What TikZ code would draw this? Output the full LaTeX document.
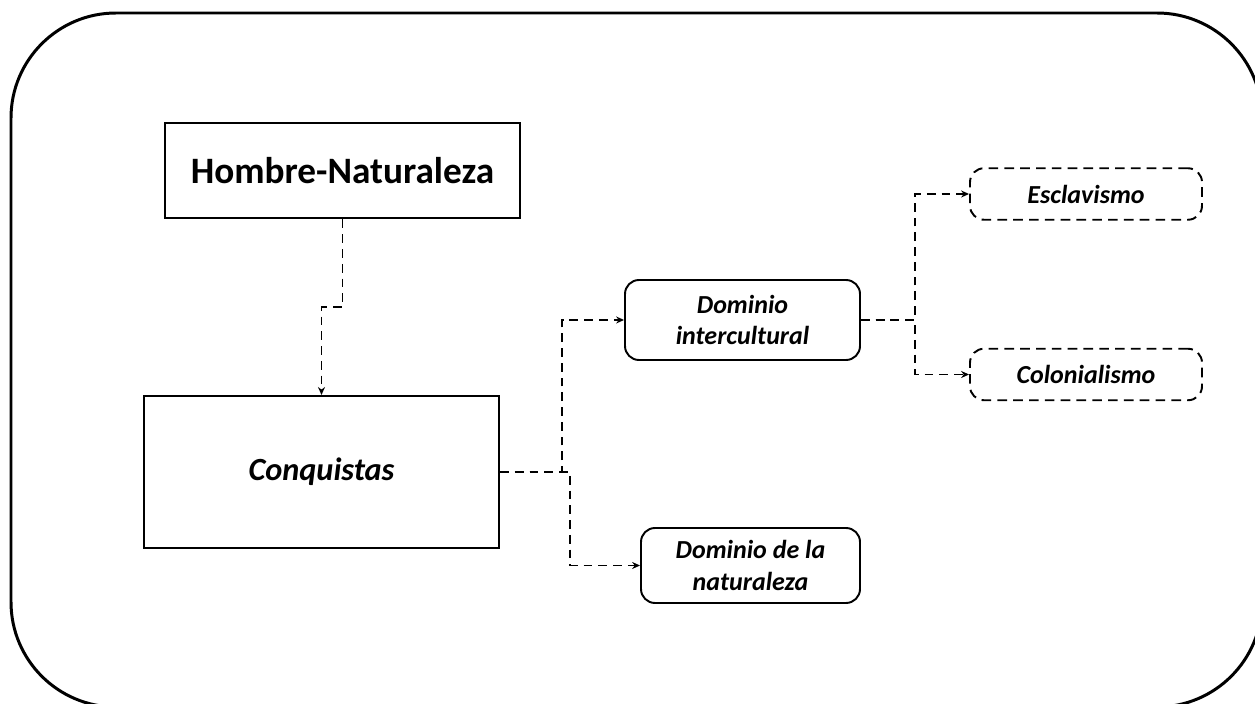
\documentclass[tikz,border=0pt]{standalone}
\usepackage{fontspec}
\setmainfont{Carlito}
\usetikzlibrary{arrows.meta,calc}

\begin{document}
\begin{tikzpicture}[
    box/.style={
        draw,
        line width=1.1pt,
        align=center,
        inner sep=2pt,
        font=\bfseries\itshape\fontsize{14.8}{18}\selectfont
    },
    mainbox/.style={
        box,
        line width=1.7pt,
        minimum width=7.1cm,
        minimum height=1.9cm,
        font=\bfseries\fontsize{21.2}{26}\selectfont
    },
    bigbox/.style={
        box,
        line width=1.2pt,
        minimum width=7.1cm,
        minimum height=3.04cm,
        font=\bfseries\itshape\fontsize{18.4}{22}\selectfont
    },
    roundbox/.style={
        box,
        rounded corners=0.28cm
    },
    dashbox/.style={
        roundbox,
        dash pattern=on 5.5pt off 3.5pt,
        minimum width=4.64cm,
        minimum height=1.03cm
    },
    conn/.style={
        -{Stealth[length=4.5pt,width=4pt]},
        line width=1.1pt,
        dash pattern=on 5pt off 3.4pt
    }
]

\useasboundingbox (0,0) rectangle (25.1,14.08);

% outer frame
\draw[line width=1.7pt, rounded corners=2.1cm] (0.22,-0.06) rectangle (25.24,13.82);

% main boxes
\node[mainbox] (HN) at (6.85,10.67) {Hombre-Naturaleza};
\node[bigbox] (CQ) at (6.43,4.64) {Conquistas};

% dominios
\node[roundbox, minimum width=4.7cm, minimum height=1.6cm] (DI) at (14.85,7.68) {Dominio\\intercultural};
\node[roundbox, minimum width=4.38cm, minimum height=1.5cm] (DN) at (15.01,2.77) {Dominio de la\\naturaleza};

% dashed boxes
\node[dashbox] (ES) at (21.72,10.2) {Esclavismo};
\node[dashbox] (CO) at (21.72,6.59) {Colonialismo};

% connectors (elbows at the midpoint)
\draw[conn] (HN.south) |- ($(HN.south)!.5!(CQ.north)$) -| (CQ.north);

\draw[conn] (CQ.east) -| ($(CQ.east)!.5!(DI.west)$) |- (DI.west);
\draw[conn] (CQ.east) -| ($(CQ.east)!.5!(DN.west)$) |- (DN.west);

\draw[conn] (DI.east) -| ($(DI.east)!.5!(ES.west)$) |- (ES.west);
\draw[conn] (DI.east) -| ($(DI.east)!.5!(CO.west)$) |- (CO.west);

\end{tikzpicture}
\end{document}
